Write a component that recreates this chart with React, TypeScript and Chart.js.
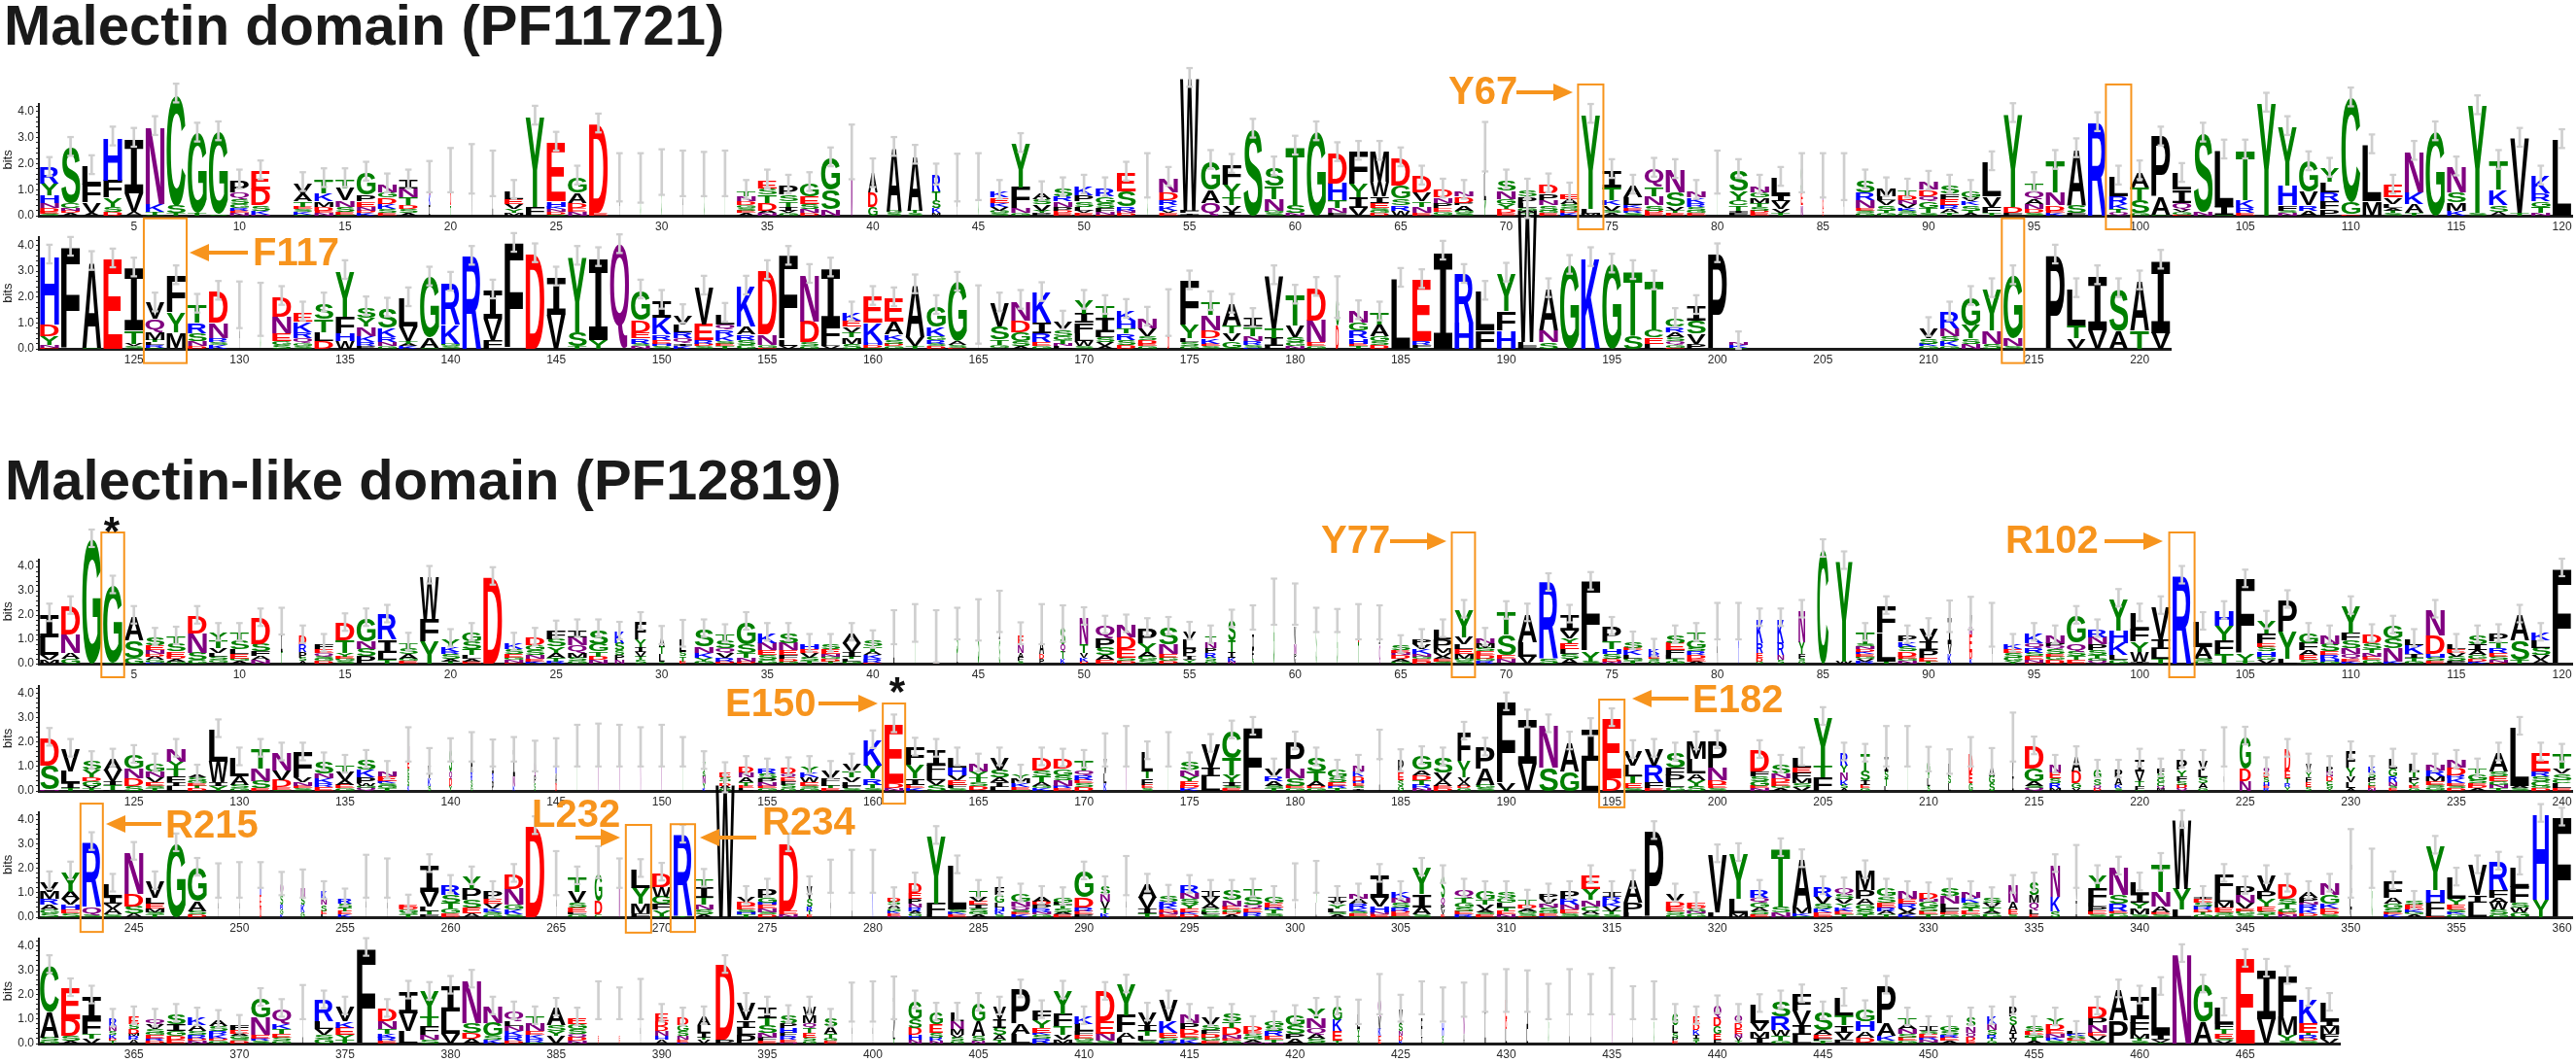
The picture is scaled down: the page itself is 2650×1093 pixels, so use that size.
import React, { useEffect, useRef } from "react";
import { Chart, registerables } from "chart.js";

Chart.register(...registerables);

// Each string is one logo column: optional "w<width>", letters top-to-bottom with heights in bits, optional "@lo,hi" error bar.
const logoRow1 = [
  "R.6Y.45H.3N.2D.12E.08S.08","S2.1C.2N.1D.1A.1","L.7F.7V.4A.1","H1.65F.65Y.35S.2D.15","I2.1V.7A.15","N2.95K.3T.1G.05","C4.25S.3T.1","G3.05T.1","G3.15S.05","P.45Q.25S.2G.15R.1E.1N.1",
  "E.7D.6S.2K.15N.05","","V.4A.3T.2E.1S.1K.1G.05","T.55K.3M.2D.15E.1N.1","T.35V.45N.25S.2E.1G.05","G.85P.25E.2N.15D.1K.1","N.3G.2D.25K.2S.15E.1","I.3N.35T.3D.15S.15A.1","w.08 N.6K.4I.4 @.9,2.1","w.05 N.8D.5T.4 @.9,2.6",
  "w.03 V1.7 @.85,2.75","w.03 I1.6 @.75,2.5","L.3E.2V.2Y.15M.1","Y3.45F.35","E2.25H.2K.1N.1D.1S.05","G.6A.4D.2E.15N.15","D3.4E.1","w.02 A1.5 @.55,2.4","w.02 G1.4 @.5,2.4","w.02 S1.6 @.8,2.55",
  "w.02 A1.6 @.75,2.5","w.02 S1.6 @.75,2.45","w.02 T1.6 @.75,2.5","T.2N.2D.15G.1S.1E.1A.1","E.3S.25T.3D.3A.1N.1","P.35S.25T.2I.15V.1G.1","G.5E.3S.2N.15D.1","G1.2S.75N.25","w.08 N2.5 @1.4,3.5","w.5 A.75D.55G.35 @1.1,2.2",
  "w.8 A2.4G.1S.1","w.8 A2.1T.1S.1","w.45 R.6T.35S.3K.2M.1 @1.2,2","w.02 A1.4 @.55,2.38","w.02 G1.5 @.6,2.4","K.25E.2K.15V.15G.1S.1","Y1.65F.8N.2G.1","A.25S.2V.25Y.1P.1","S.3R.2N.2P.15D.1E.1","K.35P.25S.2L.15V.1E.1",
  "R.3G.25S.2F.15N.1E.05","E.7S.6R.15N.1D.1","w.02 S1.5 @.7,2.4","N.55D.3R.2K.2V.1E.1","W5.05F.1I.1","G1.1A.5Q.5","F.75Y.5T.3V.25I.15","S3.3","S.7T.5N.45G.1S.1","T2.25S.3N.1",
  "G3.2","D1.15H.65T.3N.2F.1","F1.25Y.5I.4V.3","M1.15W.55I.25E.2S.1G.1D.1","D1.05G.5S.25R.2W.2","D.6V.35T.2N.25E.1","D.3N.2P.2E.15G.1S.05","N.2D.25P.1A.2G.1S.1","w.1 P1.2L1Y.6 @1.7,3.6","S.4N.3G.2Y.2D.15E.1",
  "S.25P.25L.2G.1A.1T.1","D.35P.25N.2S.2G.1E.1","E.2A.2S.15G.1D.1K.1","Y3.6L.2M.07","I.65T.5K.2V.2S.1A.1","A.45L.3K.1E.1R.1S.1","Q.7T.35N.35S.2D.1E.1","N.85S.55V.15T.1E.1","N.25K.2R.15S.15G.1E.1","w.02 T1.6 @.85,2.5",
  "S.8Y.35C.2T.2I.1F.1","N.25G.2M.2T.15S.15D.1E.1","L.65I.25V.3V.15T.1","w.1 S1E.5N.4 @.9,2.4","w.05 N.9D.3E.3 @.7,2.4","w.02 A1.4 @.6,2.4","S.45R.3N.3E.1S.1G.1","M.3L.15V.2S.2T.1G.1","T.2D.2N.15V.15K.1S.1G.1","N.3D.25Q.2G.25T.2S.1",
  "S.3F.2E.25R.15A.15T.1","G.25V.15K.15S.2T.1A.1","L1.3V.4F.25T.1","Y3.55D.25F.1","T.3Q.3A.2N.2D.15S.1","T1.2N.5D.2E.1K.1","A2.15S.3F.1","R3.55","L.75R.3K.2T.15Q.1","A.6T.5S.5G.1",
  "P2.3A.65G.05","L.6I.5Q.25V.1G.1E.05","S3N.15","L2.15I.3S.05","T1.9K.3R.2E.1","Y4.3","Y2.25H.75F.2S.1N.1","G1.15V.5R.2A.2","Y.5L.4R.35F.3P.25","C4G.45E.05",
  "L2.15M.55","E.45V.25L.15A.1T.1S.1","N1.55K.45A.35T.1","G3.2","N.95S.4M.3K.2","Y4.1S.1","T1.1K.6S.25A.15","V2.85T.1","K.65R.3G.2T.25N.1","L2.9",
];
const logoRow2 = [
  "H2.65D.45Y.35N.1E.05","F3.9","A3.3G.05","E3.45","I2.4T.5V.1S.1","V.6Q.5M.3T.1L.1R.1S.05","F1.4Y.75M.6V.05","T.7R.4S.3N.2D.1","D1.2N.6R.15S.1K.15","w.02 A1.7 @.8,2.6",
  "w.02 G1.5 @.5,2.55","D.75N.65E.3G.15S.15","E.35K.4R.25Q.2G.1S.1","S.6T.5L.35D.3","Y1.75F.65H.3W.3","S.4Y.35N.35K.25R.15P.1","S.75K.35R.2N.15G.1","L1.1V.55T.1A.1K.1","G2.3A.4S.05","R1.6K.75G.1S.1",
  "R3.55","I1.1V.8F.35","F4.05","D3.65","I1.45V1.3","Y2.9S.55T.1","I3.15Y.35","Q4","G1.15D.45E.25R.2S.1N.1","I.65K.65R.2E.15H.1S.1",
  "V.35L.3R.25Q.2I.1K.1","V1.45E.6R.15D.1S.1","L.4Q.2R.25K.2S.1E.1T.1","K1.55A.3R.2S.2G.15","D2.45N.4G.1E.05","F3.2L.25V.1","N1.8D.8S.15G.1","I2.2F.7L.1V.1","K.3E.25V.2T.2M.25S.2","E1K.75H.1D.1S.05",
  "E.9A.5K.2S.15D.1G.1","A2V.35T.1","G.8K.35G.15R.15S.1D.1","G2.25A.15S.1D.05","w.02 A1.3 @.2,2.45","V.9S.5T.2G.1A.05","N.75D.45G.35S.2A.1","K1.15I.4R.35E.15G.1","V.3S.25G.15T.15N.1L.1","Y.5I.35F.4L.3W.2S.1",
  "T.45I.55L.2S.2V.15A.1","K.4H.3T.2R.25S.2D.15","N.4V.3S.15D.15E.1G.1","w.08 E.8L.5D.5 @.5,2.3","F1.7Y.5L.15S.15G.1","T.5N.6D.3K.2E.1S.1","A.8T.3V.3G.25S.05","I.3T.35N.2R.15S.1K.05","V2T.4I.3L.1","T1.15V.45S.2G.15N.1",
  "D1.25N.85E.15G.1","w.15 G1.1D.9 @1.2,2.8","N.45G.3R.3H.2E.1T.1","T.45A.45G.2S.15D.15","L2.7","E2.35R.15F.1Y.05","I3.75","R1.85H1","L1.5F.7","Y1.45F.75H.7",
  "W5.1L.15F.1","A1.6N.45S.25","G3.2","K3.5","G3.25","T2.5S.5","T1.85C.3E.25L.2","C.3R.2A.2S.15Q.15G.1E.05","I.55S.5V.4P.2","P3.65",
  "N.1K.1S.05","","","","","","","","","V.4S.2K.1G.1",
  "R.6N.3S.2K.2G.1","G1.1Y.5S.2N.2","Y1.6N.5S.2","G2.4N.3S.1","","P3.6","L1.4T.5V.4","I2.1V.7","S1.6A.7","A1.9T.7",
  "I2.8V.6",
];
const logoRow3 = [
  "I.95L.75V.2M.15","D1.15N.75A.25G.2","G5.1","G3.15S.05","A1S.7G.25","S.3E.2N.15D.1A.15G.1K.05","T.3S.3E.2D.1A.1G.1","D.7N.8S.3G.15","Y.3T.3V.2L.15S.15G.1A.05","T.3S.35L.2E.2G.1A.1",
  "D1.05S.3F.2A.15N.15","w.08 I.8T.5 @1.2,2.3","w.4 D.35R.3P.25S.15A.1","F.2E.15Q.15S.1G.1D.1","D.7T.5Y.15E.1G.1S.1","G.95N.3S.3P.3","R1I.55L.3T.15","T.2S.25A.2G.1E.1","W1.75F.95Y.9","Y.3K.2R.1S.2A.1T.1",
  "G.35S.3T.25L.15A.1E.1","D3.55","K.25S.2E.15G.1N.1D.05","D.3G.2S.2N.15E.1K.1","F.35S.3Y.25A.2T.15R.1","I.3N.35Q.3M.2S.15G.1","S.6G.3T.2D.15N.15","w.5 K.45S.3S.2P.2N.15","w.6 F.7Y.3I.2V.2T.15S.15","w.3 A.4T.3L.3S.1 @.8,1.55",
  "w.35 L.5S.2T.2E.1 @.7,1.8","S.7N.25K.2Y.15G.1","T.25S.3Q.2V.2R.15D.1","G.9S.35T.2N.15D.1","K.4N.3E.2S.2G.15","S.4N.3E.2F.15D.1G.1","H.2E.15V.2S.15T.1","S.2E.2N.1G.1D.1T.1","A.4V.35I.2T.1L.1G.1","S.25T.2A.15K.15R.15D.05",
  "w.05 I1.5 @.8,2.2","w.03 T1.7 @.9,2.45","w.05 N.7D.5E.3 @.05,2.2","w.07 S1.2L.4 @1,2.3","w.06 S1.7 @.95,2.65","w.05 I.6S1 @1.3,3","w.3 E.4N.3A.2F.15S.1 @.8,1.7","w.25 A.55D.2P.2 @.8,2.45","w.25 S.7Q.3T.3K.2 @.9,2.4","w.45 N1.1T.35V.2K.15D.1",
  "Q.5P.4S.3A.2E.15","N.5D.5E.35S.15D.1","P.6Y.35A.2G.15S.15","S.7N.4E.15G.15D.1","w.7 V.3L.4P.3I.15Y.1S.05","w.6 T.25N.25P.2R.2S.15G.1","w.4 S.85T.45I.25K.15N.1","w.1 I.6F.4S.2 @1.4,2.4","w.04 G2.5 @1.6,3.5","w.1 V.7N.4P.2V.2 @1.6,3.3",
  "w.03 S1.7 @1.3,2.3","w.03 G1.7 @1.3,2.25","w.05 E.5T.9 @1,2.45","w.05 I.5Q.8 @1,2.4","S.2E.1N.1D.15A.1G.1","P.2V.2K.2N.1G.1E.1D.1","L.4P.35M.2V.15A.1E.1S.1","Y1.1V.3L.2E.2M.2G.1S.1","N.2M.2S.15E.15D.15G.1R.1","T.95S.85E.15N.15A.05",
  "A1.15L.6V.3","R3.1S.2","I.65V.3Y.2E.25L.2S.2A.2","F2.85Y.4S.1","P.6T.3H.2S.2D.1N.1","S.25E.1K.2L.15G.1T.1","w.6 K.2R.1E.1S.1G.1","S.3E.3F.2L.15T.1G.1","T.3G.3S.15R.15D.15E.1A.1","w.03 A1.7 @1,2.5",
  "w.03 R1.7 @1,2.5","w.35 K1R.4E.2D.15G.1","w.35 K1R.5N.2S.15","w.35 N1.3Y.5F.2S.1G.1","w.6 C4.7","w.9 Y4.1W.1","T.45S.1N.1D.1K.1E.1G.1V.1R.1","F1.1L1.15T.1","P.25K.2S.2D.2E.1G.1N.1","V.55I.35P.3E.15T.1",
  "w.2 I1.1V.4K.4 @1.3,2.6","w.15 V.5N.3E.7D.3K.2 @1.4,2.75","w.02 A1.6 @.7,2.5","K.2E.15S.2G.15Y.1","K.4Q.2R.2S.15E.15N.1D.05","N.3P.15Q.1S.2E.1G.15D.15","G1.1Q.35S.2T.15E.15","R.3N.3P.25S.2T.15G.1Q.1","Y1.3H.5K.5L.2G.15","L.65F.5Y.4W.4I.1",
  "V1.35I.4L.4T.2","R3.6","L1A.5S.1G.1","H.6Y.6F.55T.4","F3.05Y.3T.1","Y.5F.4E.15S.2H.2G.15V.15","P1.3Y1.1L.2","G.4F.3A.2E.2S.15","N.35S.3E.15R.15H.1G.1","Y1.1F.3S.3N.25Q.2E.1K.1",
  "D.35S.25T.15N.15E.15G.15","G.5S.4N.55K.1","L.25K.35I.15T.15G.1","N1.05D.75H.15S.15E.1","L.2E.15V.15S.2P.1","S.35I.25A.2G.15D.1K.1","P.3T.25R.2E.15S.15N.1D.05","A1.05S.8T.15","K.3L.3S.3V.2A.15","F3.9",
];
const logoRow4 = [
  "D1.1S1N.05","V.9L.5I.2T.1","S.35Y.3D.15G.2V.1T.1","A.45V.45I.15T.2L.05","G.55N.4D.3S.2","G.3N.25V.2E.15S.1T.1","N.5Y.3T.3F.25I.15L.2","A.1S.15G.1E.1T.1D.1","L1.3W.85I.15Y.2","L.75A.35S.15G.1",
  "T.8N.5S.3E.1","N.7V.4D.3E.1S.05","F1V.2N.15E.1S.1","S.45N.2K.2R.15E.15","T.25V.35A.2E.15G.1","S.4K.3P.25W.1G.1Q.1","N.2E.2K.1S.1G.1T.1","w.1 N.5E.4G.4S.3K.2 @1.2,2.6","w.15 V.5K.3S.2 @.7,1.75","w.15 S.9Q.3D.3Y.2 @1.2,2.15",
  "w.1 A.9R.3S.25G.2 @1.2,2.4","w.08 I.7R.3P.4 @1,2.1","w.1 I1.1N.4K.2 @1.2,2.2","w.08 Q.6P.3S.3 @.8,2.05","w.08 R.7A.4D.3 @1,2.15","w.02 T1.7 @1,2.7","w.02 N1.7 @1,2.75","w.02 N1.7 @1,2.7","w.02 N1.7 @1,2.6","w.02 N1.7 @1,2.7",
  "w.02 T1.5 @1,2.2","w.15 Y.4S.2N.3Y.2K.1","w.6 E.2S.15T.1D.1A.1G.1","w.8 D.25N.2A.2T.15E.1L.1","R.2S.2P.15N.15E.1G.1","w.8 D.25Q.15E.15F.15S.15G.1","Y.25K.2W.2E.15S.1G.1","V.3F.15L.15T.1E.1","V.3T.25V.2L.15F.1S.1","K1Y.55R.25T.15S.1",
  "E2.4D.2N.1","F.7Y.55I.25E.15K.1","I.65F.3L.3V.2S.25","L.4H.3V.2E.2F.15S.1","N.3Y.25T.2S.15D.15V.05","V.5S.3A.2I.2L.15","Y.15M.2K.15E.1S.05","D.5S.25T.25A.15G.1K.1","D.4G.25S.2N.25R.1E.1","T.4Q.2R.2E.15S.15D.15",
  "w.15 V.6L.4K.3 @1,2.35","w.02 N1.6 @1,2.65","w.6 L.8T.3F.25E.15S.1","w.02 T1.5 @1,2.4","S.3N.25Y.2E.2D.1K.1","V.95I.35L.6","C1.1T.7Y.3I.15S.1E.1","F2.6","V.3R.2A.2S.1T.1","P1.1N.4S.3E.1G.1",
  "S.55T.4A.2D.1G.1","G.3S.2E.15R.1T.1","w.6 N.25K.2D.2H.1E.1S.1I.1","w.03 I1.5 @1.3,2.5","w.3 P.5E.3S.25G.2 @.8,1.7","G.55A.2D.2T.2R.15N.1","S.6V.3A.25E.1D.1","w.7 F1.2Y.65V.2A.15D.1G.1","P.85A.65G.15S.1","F3.3V.3",
  "I1.8V1.1","N1.75S.95","A1.2G.8","I1.3L1.25","E2.45D.5","V.6L.45T.3E.2S.1","V.65R.7F.25E.1","S.6F.3P.3L.2G.15","M.7L.6A.25Y.25S.2","P1.1N.5D.2E.15S.1",
  "","D.85F.2S.2G.2E.1N.1","S.35N.2D.15E.15G.1A.1","L.4E.2F.25M.2S.15V.15","Y2T.45F.55","w.4 R.5Y.3N.3K.2S.15A.1","w.5 T.65S.4I.2E.15G.1","w.2 I.6S.3T.3L.2 @1,2.65","w.02 T1.5 @1,2.65","w.15 G.4Y.3L.3S.2 @.8,1.8",
  "w.15 F.5S.3L.3 @.7,1.7","w.2 D.8E.4G.3 @1,2.2","w.3 A.4G.3S.3 @.7,1.75","w.08 V1.6I.6 @1.2,3.2","D.9G.5A.2S.1Q.1","w.6 N.3E.25S.2R.2M.1","w.5 A.6D.5G.2V.1","w.4 G.35S.25Q.15D.1","w.4 P.3A.3K.15S.1","w.5 I.5V.4T.2F.15G.05",
  "w.4 F.2S.2G.15C.15Q.1M.1","w.55 P.4Y.25F.2S.15D.15Q.1","w.5 V.4L.3S.25A.2G.1","w.02 A1.5 @1,2.6","w.6 G1.3D.5N.4","w.3 Q.2D.2S.2H.15E.1R.1","w.3 D.9E.3T.2R.15Y.15","w.3 V.35Y.2F.2E.2S.15","w.35 P.2N.2D.2C.15S.15Y.1","w.5 F.65Y.35V.25L.25A.1",
  "w.4 K.25S.2P.2C.15E.1N.1","w.45 L.4G.3R.25N.15S.1E.1","w.55 L.3T.25P.2Y.15E.1G.1","N.25R.25M.2E.15S.1G.1T.05","N.3D.3R.15K.2E.1S.1D.1","T.2G.25S.15E.1D.1A.1","A.75S.2E.2G.15N.15T.1","L2.4A.1S.1","E.75R.2S.2C.2G.1D.1","T.6V.2S.25C.15L.2E.1",
];
const logoRow5 = [
  "V.4M.3R.25A.2G.15S.15","Y.8A.3V.25H.2E.15S.15","R2.6Q.35S.1","L.5I.3V.2A.25S.1","N1.7D.5S.3A.15","V.65L.25E.2M.15S.1T.1","G3","G1.35A.4S.15D.1","w.02 A1.4 @.8,2.2","w.02 A1.4 @.8,2.25",
  "w.08 H.8E.5D.4 @1.2,2.25","w.15 Q.5S.4R.2G.2K.1 @.9,1.85","w.2 N.4S.3K.3G.2 @.8,1.95","w.3 K.3N.25S.25E.15L.1","w.75 R.2S.15T.15E.15K.1","w.02 A1.6 @.8,2.55","w.02 A1.5 @.8,2.4","E.1D.1G.1S.1T.1","I1.1V.6L.2T.15F.1","R.4S.3T.25G.2E.1D.05",
  "Y.5P.45S.3E.25A.15","P.3E.2V.2K.15S.1G.1","D.6N.65G.2K.2S.1","D3.7","w.02 A1.7 @.9,2.7","T.6V.45S.2E.2L.1G.1","w.4 G1.1D.55C.1 @1.6,2.9","w.05 N1.4 @1.2,2.4","L.75Y.65M.4F.15","D.55W.4G.3F.25Y.25S.05",
  "R3.3T.05","T.3I.45T.3N.2S.2A.1","W5.4","V.2D.2E.15S.1H.1T.1","P.35G.2H.1E.15N.15S.1D.1","D2.75E.15N.1","w.3 V.5S.3R.2T.15E.1","w.02 A1.5 @1,2.35","w.02 I1.6 @1,2.75","w.03 K1.7 @1,2.75",
  "w.7 D.15S.15A.15G.1K.1E.1N.05","w.7 D.4E.25P.2N.15R.15A.1G.1K.05","Y2.75F.45L.1","L1.8S.1K.1E.1","T.25V.2E.15I.15S.15G.1A.1","w.5 F.3G.3L.2H.15K.15S.1","G.3N.2Q.15S.1E.1K.1","A.2D.15P.15R.15N.1G.1","G.2L.1T.15S.15A.1E.1","G1.05D.4R.15E.15P.1",
  "w.5 S.3N.3V.3T.2K.15","w.02 A1.6 @.9,2.5","A.55V.45I.2T.15","S.25R.2K.15D.1N.1E.1","R.3N.25S.2Y.2E.15K.1D.1","I.25V.3A.2C.15L.1S.1","S.4N.25E.15G.1D.1A.1","T.35S.3Q.15E.15R.15Y.05","G.25E.2R.1T.15S.1A.05","w.02 A1.4 @.7,2.2",
  "w.04 Y.6L.6 @1,2.3","I.2V.15Y.15L.15S.1A.1","N.2A.2R.2K.1S.1E.1G.05","I.95V.35H.25N.1E.1","K.25N.2S.2R.15D.1E.1G.05","Y1.05I.55A.3S.1","w.2 S.9Q.3P.2V.2E.1","Q.35T.2G.2S.15E.15R.1","G.35T.2V.2A.1S.1E.1","S.25G.2L.2T.15E.15N.1",
  "T.2D.15A.1G.1S.1E.05","P.2V.2N.15S.15G.1E.1K.05","P.3R.25N.2E.15S.1G.05","E.55Y.45N.25C.2A.15S.1","I.2R.25K.15V.2T.15S.1","A.9P.4L.2","P3.5","V.3D.2E.2S.15G.1","E.15D.1S.1N.1G.15","V2.35L.2",
  "Y1.85L.6M.15","R.3Q.2G.2A.15S.15E.1","T2.35S.25N.2","A1.95M.25K.1S.05","R.4V.3S.2K.15E.15D.05","Q.25S.2V.2Y.15K.15E.15T.1","M.8P.35A.25G.2S.2T.1","G.3S.25E.2R.15A.15T.1","N.3E.2R.2V.15A.1K.1","D.25N.1G.25S.15E.15T.1",
  "S.3N.3L.2F.15E.1G.1","N.25K.2S.2T.15E.15G.1","S.2V.2T.15A.1G.15","w.5 N.7A.3E.2S.1","w.5 S.5M.3Q.3L.2E.1","w.5 N1.3K.6S.25","w.06 V1.4I.7 @1.2,2.95","Y.5F.6L.15P.2E.15S.1","N1.15S.35R.3E.1G.15","L.45I.35Y.25M.25S.1",
  "T1.15N.6A.25E.1S.1","W2.8Y.85L.3","I.1E.15S.15R.15D.1T.1G.1","F.75L.35M.25E.2S.1G.1","P.35N.3V.25E.1G.15S.1","V.65P.3Y.3E.2S.15T.1","D.6S.2T.2G.15E.1N.1","A.25P.2N.1R.2K.15D.1G.05","N.45G.35K.2E.15D.1S.1","w.1 I1.2L.7V.3 @.8,3.6",
  "w.03 G2 @1.2,2.8","F.65A.25G.2S.15E.1K.1","S.15E.2K.1G.1A.1","Y1.8H.5F.45L.1E.05","L.85Y.25E.2S.1K.1G.1","V1.2I.3L.6","R1.15F.3A.2W.3S.2G.1","L.8F.65S.2W.2G.2","w.85 H3.5Y.7","F4.05",
];
const logoRow6 = [
  "C1.9A1.05S.15G.1","E1.25D.7S.2A.1","I.95F.6T.2V.2","w.4 R.3N.2S.15K.15D.1T.1","w.55 E.3S.2D.2M.1R.15A.15","Q.2V.2S.15G.1E.15R.1D.1","S.4I.3G.2D.15E.15","K.3A.25S.15R.15D.1N.1","A.25S.2R.15K.15D.1G.1","F.2E.15A.1G.1S.1D.1",
  "G.8N.7E.15R.1S.1","Q.6K.2T.2E.15S.15G.1","w.03 L1.6 @1,2.4","R.85L.3V.25S.15G.2","V.6K.25E.3Y.2T.15","F3.9","D.5N.3T.2K.15R.15E.1","I.9V.75L.5","Y1T.4F.35N.2S.15","I1.05L.9V.4",
  "N1.75S.4D.25A.2","N.65G.55S.15K.15","Q.4L.2N.2K.2R.2D.1","T.3N.3E.15K.15R.15S.05","A.7S.25Y.2V.3","E.25G.2S.2Q.15D.15N.1","w.04 E.2D.1 @1,2.55","w.04 E.2D.1 @1,2.3","w.02 A1.6 @1,2.65","w.7 E.3D.2D.2N.2H.15A.15",
  "w.6 D.3G.25S.2N.15E.1K.05","w.7 A.35L.3I.2T.1V.15","D3.05P.15","V.7I.3L.3P.35","I.45T.3S.3N.2F.15E.1","w.9 S.3P.2H.2F.15R.15E.1N.05","w.7 W.35M.3Q.2T.2E.2S.15G.1","w.7 S.3A.3T.2G.1E.1","w.02 A1.6 @.9,2.5","w.02 A1.6 @.9,2.55",
  "w.1 I.9V.5L.3T.2 @1,2.75","w.7 G.75S.35D.3H.2N.15","w.7 G.45E.35S.2R.15N.1","w.7 L.35N.3M.25V.1S.15G.1","w.7 G.75A.6S.2N.1","w.7 V.5I.35S.3A.2T.15","P1.4A.4L.4","F.4Y.3E.2K.1S.15R.2","Y.95F.5T.35V.2M.15","K.3L.3F.15E.15G.1S.1",
  "D1.2E.5N.3S.1","Y1.25F.7A.25L.2","V.5I.25T.2L.2S.1","V.85K.45E.2S.15R.1","N.35P.25D.2E.15S.1K.15","V.3S.2F.15D.15G.15E.1","S.3T.25D.3N.15E.1G.1","D.2E.1S.15G.1A.1N.05","G.2S.2R.2E.15T.1N.05","G.4S.35P.2A.2",
  "Y.4N.4Q.25A.2S.15G.05","w.5 G.55K.45E.4T.1","w.15 L.6Y.3T.2S.1 @.8,1.8","w.15 Q.7V.5K.3E.3 @1.2,2.85","w.2 V.6S.3N.2D.2K.1 @.9,2","w.07 F.7I.3 @1.2,2.55","w.08 H.5S.3 @.9,2.3","w.05 N.8A.4 @1.1,2.5","w.05 I1.5 @1.3,2.85","w.08 E.8D.4L.6 @1.3,3.05",
  "w.08 I1.3L.6 @1.3,3","w.02 G1.6 @1,2.45","w.02 I1.8 @1.2,3.05","w.02 L1.7 @1.2,2.85","w.02 N1.8 @1.2,3.1","w.02 I1.5 @1,2.35","w.02 G1.6 @1,2.55","w.3 G.45L.3S.2P.15E.1","w.35 E.3D.25K.2I.15S.1T.1","w.4 Q.5D.35G.3E.25F.15",
  "w.4 Q.35D.25E.2N.15V.15T.1","L.75V.35M.25I.25","S.65R.55W.25T.2G.1","F.65V.6I.4L.35","S.75A.2E.15F.1T.1","L.7T.4I.3V.3F.15","G.45H.4A.25D.2V.05","P1.55A.5K.2S.1","T.25A.2N.2S.15E.15G.1","I.2S.1E.15R.1N.1G.05",
  "G.2S.15R.1E.15A.1","w.5 S.35N.25Q.2D.15E.1","w.5 K.3N.25S.2R.15T.1G.1","w.4 P.4S.35A.3I.25V.2","S.2E.15G.1T.15A.1","Y.25D.25E.15N.15K.15S.1","L.1K.1S.1E.1G.1","D.45P.3N.3E.15V.2S.1","A1.25P.95","I.95L.15F.45M.2T.1S.1",
  "L1.95I.2V.1T.05","N3.65","G1.5A.9","L.65F.2T.2E.2S.1V.1","E3.45","I2.05V1","F1.65M.75Y.25S.1","K1E.4T.1R.15D.1S.1","L.75I.2M.3F.2V.2",
];

const rowStarts = [1, 121, 1, 121, 241, 361];
const rowLogos = [logoRow1, logoRow2, logoRow3, logoRow4, logoRow5, logoRow6];
const rowBaselines = [222.3, 359.3, 683, 814, 944, 1074.3];
const rowBitPixels = [26.8, 26.65, 25, 25.2, 25.2, 25.1];
const rowHighlights = [
  [{ from: 73.4, to: 74.6, top: 5.04, bottom: -0.52 }, { from: 98.4, to: 99.6, top: 5.04, bottom: -0.52 }],
  [{ from: 125.47, to: 127.5, top: 5.04, bottom: -0.55 }, { from: 213.47, to: 214.53, top: 5.04, bottom: -0.55 }],
  [{ from: 3.46, to: 4.54, top: 5.4, bottom: -0.56 }, { from: 67.42, to: 68.52, top: 5.4, bottom: -0.56 }, { from: 101.4, to: 102.6, top: 5.4, bottom: -0.56 }],
  [{ from: 160.47, to: 161.53, top: 3.57, bottom: -0.52 }, { from: 194.4, to: 195.6, top: 3.73, bottom: -0.67 }],
  [{ from: 242.47, to: 243.53, top: 4.64, bottom: -0.6 }, { from: 268.3, to: 269.5, top: 3.77, bottom: -0.63 }, { from: 270.42, to: 271.58, top: 3.8, bottom: -0.6 }],
  [],
];

const TITLES = [
  { text: "Malectin domain (PF11721)", x: 4, y: 46 },
  { text: "Malectin-like domain (PF12819)", x: 5, y: 514 },
];
const CALLOUTS = [
  { text: "Y67", x: 1490, y: 107, from: 1560, to: 1618, ay: 95 },
  { text: "F117", x: 260, y: 273, from: 255, to: 195, ay: 260 },
  { text: "Y77", x: 1359, y: 569, from: 1430, to: 1488, ay: 557 },
  { text: "R102", x: 2063, y: 569, from: 2165, to: 2225, ay: 557 },
  { text: "E150", x: 746, y: 737, from: 842, to: 903, ay: 724 },
  { text: "E182", x: 1741, y: 733, from: 1737, to: 1679, ay: 719 },
  { text: "R215", x: 170, y: 862, from: 166, to: 109, ay: 848 },
  { text: "L232", x: 547, y: 851, from: 592, to: 638, ay: 862 },
  { text: "R234", x: 784, y: 859, from: 778, to: 720, ay: 862 },
];
const STARS = [{ x: 115, y: 561 }, { x: 923, y: 726 }];

const ORANGE = "#f7941d";
const COLORS: Record<string, string> = {
  A: "#000", F: "#000", I: "#000", L: "#000", M: "#000", P: "#000", V: "#000", W: "#000",
  C: "#008000", G: "#008000", S: "#008000", T: "#008000", Y: "#008000",
  N: "#800080", Q: "#800080", D: "#ff0000", E: "#ff0000", H: "#0000ff", K: "#0000ff", R: "#0000ff",
};
const CANVAS_TOP_ROOM = 170;
const CANVAS_BOTTOM_ROOM = 30;
const AXIS_LEFT = 40;
const UNIT = 21.72;

type Col = { p: number; w: number; letters: { c: string; h: number }[]; lo: number | null; hi: number | null };

function parseRow(row: string[], start: number): Col[] {
  return row.map((s, i) => {
    let w = 1;
    const wm = s.match(/^w([\d.]+)\s*/);
    if (wm) w = parseFloat(wm[1]);
    const em = s.match(/@([\d.]+),([\d.]+)/);
    const letters: { c: string; h: number }[] = [];
    for (const m of s.replace(/^w[\d.]+\s*/, "").replace(/@.*$/, "").matchAll(/([A-Z])([\d.]+)/g)) {
      letters.push({ c: m[1], h: parseFloat(m[2]) });
    }
    const top = letters.reduce((a, l) => a + l.h, 0);
    const lo = em ? parseFloat(em[1]) : letters.length ? Math.max(0, top - 0.3) : null;
    const hi = em ? parseFloat(em[2]) : letters.length ? top + 0.42 : null;
    return { p: start + i, w, letters, lo, hi };
  });
}

const glyphCache: Record<string, any> = {};
function glyph(ctx: CanvasRenderingContext2D, c: string) {
  if (glyphCache[c]) return glyphCache[c];
  ctx.save();
  ctx.font = c === "I" ? 'bold 100px "Liberation Mono"' : 'bold 100px "Liberation Sans"';
  const m = ctx.measureText(c);
  glyphCache[c] = {
    font: ctx.font,
    left: m.actualBoundingBoxLeft,
    right: m.actualBoundingBoxRight,
    asc: m.actualBoundingBoxAscent,
    desc: m.actualBoundingBoxDescent,
  };
  ctx.restore();
  return glyphCache[c];
}

const logoPlugin = {
  id: "logoLetters",
  beforeDatasetsDraw(chart: any, _a: any, opts: any) {
    const { ctx, scales } = chart;
    const { x, y } = scales;
    ctx.save();
    for (const col of opts.columns as Col[]) {
      const halfW = 0.45 * col.w;
      const x0 = x.getPixelForValue(col.p - halfW);
      const x1 = x.getPixelForValue(col.p + halfW);
      let base = 0;
      for (let i = col.letters.length - 1; i >= 0; i--) {
        const l = col.letters[i];
        const y0 = y.getPixelForValue(base + l.h);
        const y1 = y.getPixelForValue(base);
        base += l.h;
        const g = glyph(ctx, l.c);
        ctx.save();
        ctx.font = g.font;
        ctx.fillStyle = COLORS[l.c] || "#000";
        ctx.textAlign = "left";
        ctx.textBaseline = "alphabetic";
        ctx.translate(x0, y0);
        ctx.scale((x1 - x0) / (g.left + g.right), (y1 - y0) / (g.asc + g.desc));
        ctx.fillText(l.c, g.left, g.asc);
        ctx.restore();
      }
    }
    ctx.restore();
  },
  afterDatasetsDraw(chart: any, _a: any, opts: any) {
    const { ctx, scales } = chart;
    const { x, y } = scales;
    ctx.save();
    ctx.strokeStyle = ORANGE;
    ctx.lineWidth = 2;
    for (const h of opts.highlights) {
      const a = x.getPixelForValue(h.from);
      const b = x.getPixelForValue(h.to);
      const t = y.getPixelForValue(h.top);
      const u = y.getPixelForValue(h.bottom);
      ctx.strokeRect(a, t, b - a, u - t);
    }
    ctx.restore();
  },
};

function LogoRow({ index }: { index: number }) {
  const ref = useRef<HTMLCanvasElement>(null);
  useEffect(() => {
    const start = rowStarts[index];
    const logo = rowLogos[index];
    const columns = parseRow(logo, start);
    const end = start + logo.length - 1;
    const ppb = rowBitPixels[index];
    const barCols = columns.filter((c) => c.hi !== null);
    const gray = "#cfcfcf";
    const chart = new Chart(ref.current as HTMLCanvasElement, {
      type: "bar",
      plugins: [logoPlugin],
      data: {
        datasets: [
          { data: barCols.map((c) => ({ x: c.p, y: [c.lo, c.hi] })), backgroundColor: gray, barThickness: 2, grouped: false, clip: false },
          { data: barCols.map((c) => ({ x: c.p, y: [(c.hi as number) - 0.03, (c.hi as number) + 0.03] })), backgroundColor: gray, barThickness: 6, grouped: false, clip: false },
          { data: barCols.map((c) => ({ x: c.p, y: [(c.lo as number) - 0.03, (c.lo as number) + 0.03] })), backgroundColor: gray, barThickness: 6, grouped: false, clip: false },
        ] as any,
      },
      options: {
        animation: false,
        responsive: false,
        devicePixelRatio: 1,
        events: [],
        layout: {
          padding: {
            top: CANVAS_TOP_ROOM - 4.3 * ppb,
            right: 2650 - (AXIS_LEFT + logo.length * UNIT),
            left: 0,
            bottom: 0,
          },
        },
        plugins: {
          legend: { display: false },
          tooltip: { enabled: false },
          logoLetters: { columns, highlights: rowHighlights[index] },
        } as any,
        scales: {
          x: {
            type: "linear",
            offset: false,
            min: start - 0.5,
            max: end + 0.5,
            afterFit: (s: any) => { s.height = CANVAS_BOTTOM_ROOM; },
            afterBuildTicks: (s: any) => {
              s.ticks = columns.filter((c) => c.p % 5 === 0).map((c) => ({ value: c.p }));
            },
            grid: { display: false, drawTicks: false },
            border: { display: true, color: "#1c1c1c", width: 3 },
            ticks: {
              autoSkip: false,
              maxRotation: 0,
              padding: 4,
              color: "#2a2a2a",
              font: { family: '"Liberation Sans Narrow", "Liberation Sans"', size: 12 },
              callback: (v: any) => String(v),
            },
          },
          y: {
            type: "linear",
            min: 0,
            max: 4.3,
            afterFit: (s: any) => { s.width = AXIS_LEFT; },
            afterBuildTicks: (s: any) => {
              const out = [];
              for (let i = 0; i <= 21; i++) out.push({ value: i / 5 });
              s.ticks = out;
            },
            title: {
              display: true,
              text: "bits",
              color: "#222",
              padding: { top: 1, bottom: 0 },
              font: { family: '"Liberation Sans"', size: 13 },
            },
            grid: { drawOnChartArea: false, drawTicks: true, tickLength: 3, color: "#222", tickColor: "#222" },
            border: { display: true, color: "#1c1c1c", width: 2 },
            ticks: {
              autoSkip: false,
              padding: 2,
              color: "#2a2a2a",
              font: { family: '"Liberation Sans Narrow", "Liberation Sans"', size: 12 },
              callback: (v: any) => (Math.abs(v - Math.round(v)) < 1e-6 ? Number(v).toFixed(1) : ""),
            },
          },
        },
      } as any,
    });
    return () => chart.destroy();
  }, [index]);
  return (
    <canvas
      ref={ref}
      width={2650}
      height={CANVAS_TOP_ROOM + CANVAS_BOTTOM_ROOM}
      style={{
        position: "absolute",
        left: 0,
        top: rowBaselines[index] - CANVAS_TOP_ROOM,
        width: 2650,
        height: CANVAS_TOP_ROOM + CANVAS_BOTTOM_ROOM,
      }}
    />
  );
}

function Arrow({ from, to, y }: { from: number; to: number; y: number }) {
  const dir = to > from ? 1 : -1;
  const neck = to - dir * 20;
  return (
    <g>
      <line x1={from} y1={y} x2={neck} y2={y} stroke={ORANGE} strokeWidth={4} />
      <polygon points={`${to},${y} ${neck},${y - 9} ${neck},${y + 9}`} fill={ORANGE} />
    </g>
  );
}

export default function App() {
  return (
    <div style={{ position: "fixed", left: 0, top: 0, width: 2650, height: 1093, background: "#fff", overflow: "hidden" }}>
      {rowStarts.map((_, i) => (
        <LogoRow key={i} index={i} />
      ))}
      <svg width={2650} height={1093} style={{ position: "absolute", left: 0, top: 0 }}>
        {TITLES.map((t) => (
          <text key={t.text} x={t.x} y={t.y} fontFamily="Liberation Sans" fontWeight="bold" fontSize={58} fill="#1a1a1a">
            {t.text}
          </text>
        ))}
        {CALLOUTS.map((c) => (
          <g key={c.text}>
            <text x={c.x} y={c.y} fontFamily="Liberation Sans" fontWeight="bold" fontSize={40} fill={ORANGE}>
              {c.text}
            </text>
            <Arrow from={c.from} to={c.to} y={c.ay} />
          </g>
        ))}
        {STARS.map((s, i) => (
          <text key={i} x={s.x} y={s.y} textAnchor="middle" fontFamily="Liberation Sans" fontWeight="bold" fontSize={42} fill="#111">
            *
          </text>
        ))}
      </svg>
    </div>
  );
}
